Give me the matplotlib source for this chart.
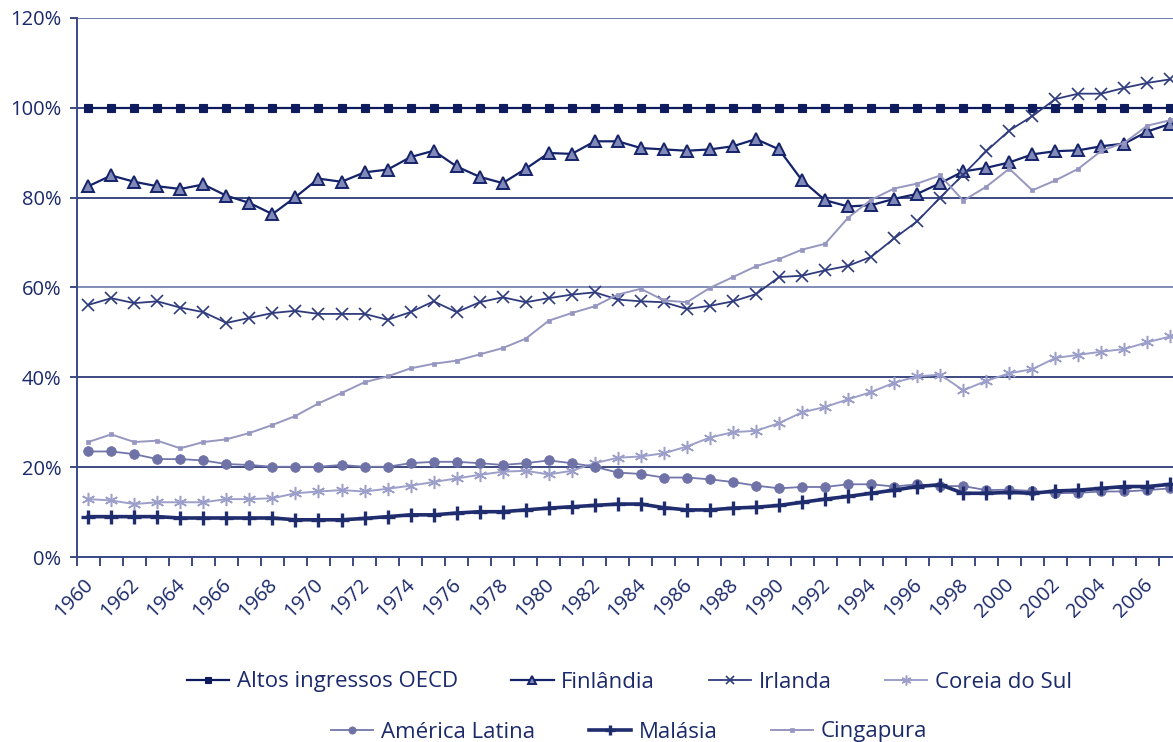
import matplotlib
matplotlib.use("Agg")
import matplotlib.pyplot as plt
import numpy as np

plt.rcParams['font.family'] = ['Open Sans', 'DejaVu Sans']

years = list(range(1960, 2008))

oecd = [100.0] * 48

finlandia = [82.5, 84.9, 83.5, 82.5, 81.9, 82.9, 80.4, 78.8, 76.3, 80.1,
             84.2, 83.5, 85.6, 86.2, 89.0, 90.4, 86.9, 84.6, 83.2, 86.4,
             89.9, 89.7, 92.5, 92.5, 91.0, 90.7, 90.4, 90.7, 91.4, 93.0,
             90.7, 83.8, 79.4, 78.0, 78.3, 79.7, 80.8, 83.2, 85.8, 86.6,
             87.8, 89.6, 90.3, 90.5, 91.4, 92.0, 94.7, 96.4]

irlanda = [56.1, 57.6, 56.5, 56.9, 55.5, 54.5, 52.1, 53.2, 54.3, 54.8,
           54.1, 54.1, 54.1, 52.8, 54.5, 56.9, 54.5, 56.7, 57.8, 56.7,
           57.6, 58.4, 58.9, 57.3, 56.9, 56.7, 55.2, 55.9, 56.9, 58.5,
           62.3, 62.6, 63.8, 64.8, 66.8, 70.9, 74.7, 80.0, 85.1, 90.3,
           94.9, 98.1, 101.9, 103.1, 103.1, 104.4, 105.5, 106.3]

coreia = [12.9, 12.6, 11.8, 12.2, 12.2, 12.2, 12.9, 12.9, 13.1, 14.2,
          14.6, 14.9, 14.6, 15.2, 15.9, 16.7, 17.5, 18.3, 19.0, 19.2,
          18.4, 19.2, 20.9, 22.1, 22.4, 23.1, 24.6, 26.6, 27.8, 28.1,
          29.8, 32.2, 33.4, 35.1, 36.7, 38.8, 40.2, 40.6, 37.1, 39.2,
          40.9, 41.8, 44.3, 45.0, 45.7, 46.3, 47.8, 49.1]

america_latina = [23.5, 23.5, 22.9, 21.8, 21.8, 21.5, 20.7, 20.5, 20.1, 20.1,
                  20.1, 20.5, 20.1, 20.1, 20.9, 21.2, 21.2, 20.9, 20.5, 20.9,
                  21.5, 20.9, 20.1, 18.8, 18.5, 17.7, 17.7, 17.3, 16.7, 15.9,
                  15.3, 15.6, 15.6, 16.2, 16.2, 15.7, 16.2, 15.8, 15.8, 14.9,
                  15.0, 14.7, 14.2, 14.3, 14.6, 14.6, 14.9, 15.3]

malasia = [9.0, 9.0, 9.0, 9.0, 8.7, 8.7, 8.7, 8.7, 8.7, 8.3,
           8.3, 8.3, 8.6, 9.0, 9.4, 9.4, 9.8, 10.1, 10.1, 10.5,
           10.9, 11.2, 11.5, 11.8, 11.8, 11.0, 10.5, 10.5, 10.9, 11.1,
           11.5, 12.2, 12.9, 13.5, 14.2, 14.9, 15.7, 16.1, 14.2, 14.2,
           14.4, 14.2, 14.7, 14.9, 15.3, 15.7, 15.7, 16.2]

cingapura = [25.6, 27.3, 25.6, 25.9, 24.2, 25.6, 26.2, 27.6, 29.4, 31.4,
             34.2, 36.5, 38.9, 40.2, 42.0, 43.0, 43.7, 45.1, 46.5, 48.6,
             52.6, 54.3, 55.8, 58.4, 59.7, 57.1, 56.7, 59.9, 62.3, 64.7,
             66.3, 68.4, 69.7, 75.5, 79.5, 82.0, 83.1, 84.9, 79.3, 82.4,
             86.4, 81.6, 83.8, 86.4, 90.4, 92.2, 96.0, 97.2]

label_years = list(range(1960, 2007, 2))
y_ticks = [0, 20, 40, 60, 80, 100, 120]
y_ticklabels = ['0%', '20%', '40%', '60%', '80%', '100%', '120%']

W, H = 1173, 742
fig = plt.figure(figsize=(W / 100, H / 100), dpi=100)
ax = fig.add_axes([76.7 / W, 1 - 557.1 / H, (1182 - 76.7) / W, (557.1 - 17.7) / H])

navy = '#1b2a6b'
series = [
    ('Altos ingressos OECD', oecd, dict(color='#0e1c5e', lw=1.6, marker='s', ms=6.2,
                                        mfc='#0e1c5e', mec='#0e1c5e', mew=0.8)),
    ('Finlândia', finlandia, dict(color='#15236a', lw=1.6, marker='^', ms=8.5,
                                  mfc='#8189b8', mec='#15236a', mew=1.4)),
    ('Irlanda', irlanda, dict(color='#2f3b7d', lw=1.3, marker='x', ms=8.5,
                              mfc='#2f3b7d', mec='#2f3b7d', mew=1.2)),
    ('Coreia do Sul', coreia, dict(color='#9c9fc9', lw=1.4, marker=(6, 2, 0), ms=9.5,
                                   mfc='#9c9fc9', mec='#9c9fc9', mew=1.1)),
    ('América Latina', america_latina, dict(color='#7276aa', lw=1.3, marker='o', ms=7,
                                            mfc='#6e72a7', mec='#6e72a7', mew=0.5)),
    ('Malásia', malasia, dict(color='#1f2c6d', lw=2.6, marker='+', ms=10,
                              mfc='#1f2c6d', mec='#1f2c6d', mew=2.4)),
    ('Cingapura', cingapura, dict(color='#9597c1', lw=1.4, marker='s', ms=3,
                                  mfc='#9597c1', mec='#9597c1', mew=0.5)),
]

handles = []
for name, vals, st in series:
    ln, = ax.plot(years, vals, label=name, clip_on=False, zorder=3, **st)
    handles.append(ln)

ax.set_xlim(1959.5, 2007.5)
ax.set_ylim(0, 120)

# y axis
ax.set_yticks(y_ticks)
ax.set_yticklabels(y_ticklabels)
ax.tick_params(axis='y', length=5, width=1.2, color=navy, pad=6,
               labelsize=14.5, labelcolor=navy)
ax.yaxis.grid(True, color=navy, lw=1.2, zorder=1)
grid_colors = ['#3a4a8a', navy, navy, '#6c79aa', navy, navy, '#5a69a2']
for gl, c in zip(ax.yaxis.get_gridlines(), grid_colors):
    gl.set_color(c)
ax.set_axisbelow(True)

# x axis: tick marks at category boundaries, labels every other year
bounds = [y - 0.5 for y in years] + [years[-1] + 0.5]
ax.set_xticks(bounds)
ax.set_xticklabels([''] * len(bounds))
ax.tick_params(axis='x', which='major', length=6.5, width=1.2, color=navy, direction='out')
ax.set_xticks(label_years, minor=True)
ax.set_xticklabels([str(y) for y in label_years], minor=True, rotation=45,
                   ha='right', va='top', rotation_mode='anchor')
ax.tick_params(axis='x', which='minor', length=0, pad=13, labelsize=14.5, labelcolor=navy)
for lab in ax.get_xticklabels(minor=True):
    lab.set_rotation_mode('anchor')
    lab.set_transform(lab.get_transform() + matplotlib.transforms.ScaledTranslation(-0.05, 0, fig.dpi_scale_trans))

for s in ['top', 'right']:
    ax.spines[s].set_visible(False)
for s in ['left', 'bottom']:
    ax.spines[s].set_color('#3a4a8a')
    ax.spines[s].set_linewidth(1.4)

# Legend: two centred rows
leg_kw = dict(frameon=False, fontsize=16, handlelength=1.9, handletextpad=0.35,
              columnspacing=2.4, borderaxespad=0, borderpad=0, labelcolor=navy)
cx = (76.7 + 1182) / 2 / W
leg1 = fig.legend(handles[:4], [s[0] for s in series[:4]], loc='center',
                  bbox_to_anchor=(cx, 1 - 682 / H), ncol=4, **leg_kw)
leg2 = fig.legend(handles[4:], [s[0] for s in series[4:]], loc='center',
                  bbox_to_anchor=(cx, 1 - 732 / H), ncol=3, **leg_kw)
for leg in (leg1, leg2):
    for h in leg.legend_handles:
        h.set_markersize(h.get_markersize() * 0.75)

fig.savefig('out.png', dpi=100)
